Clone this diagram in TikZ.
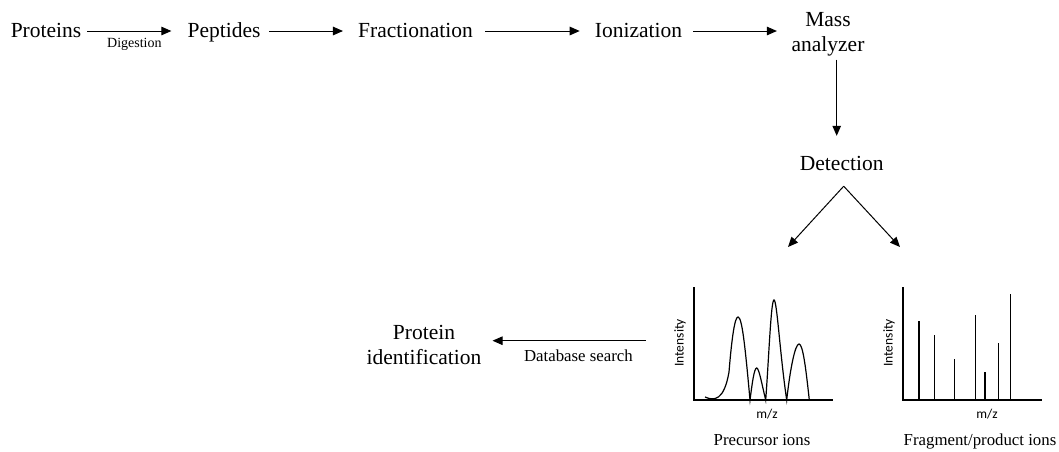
\documentclass[tikz,border=0pt]{standalone}
\usepackage{fontspec}
\setmainfont{Liberation Serif}
\newfontfamily\axisfont{Carlito}
\usetikzlibrary{arrows.meta}

\begin{document}
\begin{tikzpicture}[x=1pt, y=-1pt,
  stage/.style={inner sep=0pt, font=\fontsize{21.5}{25}\selectfont, text height=15pt, text depth=3pt},
  stagetwo/.style={inner sep=0pt, font=\fontsize{21.5}{25}\selectfont, align=center},
  note/.style={inner sep=0pt, font=\fontsize{16.8}{20}\selectfont, text height=12pt, text depth=3.5pt},
  small/.style={inner sep=0pt, font=\fontsize{14}{16}\selectfont},
  axlabel/.style={inner sep=0pt, font=\axisfont\fontsize{13.5}{15}\selectfont},
  arr/.style={-{Triangle[length=10pt,width=8.5pt]}, line width=1pt},
  axis/.style={line width=1.8pt},
  peak/.style={line width=1.2pt}]
  \useasboundingbox (0,0) rectangle (1059,451);

  % workflow
  \node[stage] (prot) at (46,31) {Proteins};
  \node[stage] (pep) at (224,31) {Peptides};
  \node[stage] (frac) at (415.5,31) {Fractionation};
  \node[stage] (ion) at (638.5,31) {Ionization};
  \node[stagetwo] (mass) at (828,34.5) {Mass\\analyzer};
  \node[stage] (det) at (841.7,164) {Detection};
  \node[stagetwo] (pid) at (424,344.5) {Protein\\identification};

  \draw[arr, shorten <=6pt, shorten >=16pt] (prot) -- node[small, below=7pt] (dig) {Digestion} (pep);
  \draw[arr, shorten <=8.5pt, shorten >=15pt] (pep) -- (frac);
  \draw[arr, shorten <=12pt, shorten >=15pt] (frac) -- (ion);
  \draw[arr, shorten <=11pt, shorten >=14.5pt] (ion.east) -- (ion.east -| mass.west);
  \draw[arr] ([xshift=8.7pt, yshift=-3pt]mass.south) -- ([xshift=-5pt, yshift=19pt]det.north);

  \coordinate (pretip) at (788,247);
  \coordinate (fragtip) at (900,247);
  \draw[arr] ([xshift=2pt, yshift=-13pt]det.south) -- (pretip);
  \draw[arr] ([xshift=2pt, yshift=-13pt]det.south) -- (fragtip);

  \coordinate (dbstart) at (645.7,340.7);
  \draw[arr, shorten >=11pt] (dbstart) -- node[note, pos=0.41, below=8pt] (db) {Database search} (dbstart -| pid.east);

  % precursor spectrum
  \draw[axis] (694,287) -- (694,400) -- (833,400);
  \draw[peak] (705,397) .. controls (714,401) and (724,401) .. (729,372)
    .. controls (732,335) and (735,317) .. (738,317)
    .. controls (742,317) and (745,345) .. (750,400)
    .. controls (752,385) and (754,368) .. (756.7,368)
    .. controls (759,368) and (762,385) .. (765.7,400)
    .. controls (769,355) and (771,300) .. (774,300)
    .. controls (777,300) and (780,355) .. (786.7,400)
    .. controls (790,370) and (795,344) .. (799,344)
    .. controls (803,344) and (806,370) .. (809.3,400);
  \node[axlabel, rotate=90] (pint) at (680,343) {Intensity};
  \node[axlabel] (pmz) at (767,414) {m/z};
  \node[note] (pions) at (762,441) {Precursor ions};

  % fragment spectrum
  \draw[axis] (903,287) -- (903,400) -- (1042,400);
  \foreach \x/\y in {919/321, 934.3/335, 954.7/359, 975.3/315, 985/372.3, 998.3/343.3, 1010.3/294.3}
    \draw[peak] (\x,400) -- (\x,\y);
  \node[axlabel, rotate=90] (fint) at (889,343) {Intensity};
  \node[axlabel] (fmz) at (987,414) {m/z};
  \node[note] (fions) at (980,441) {Fragment/product ions};
\end{tikzpicture}
\end{document}
